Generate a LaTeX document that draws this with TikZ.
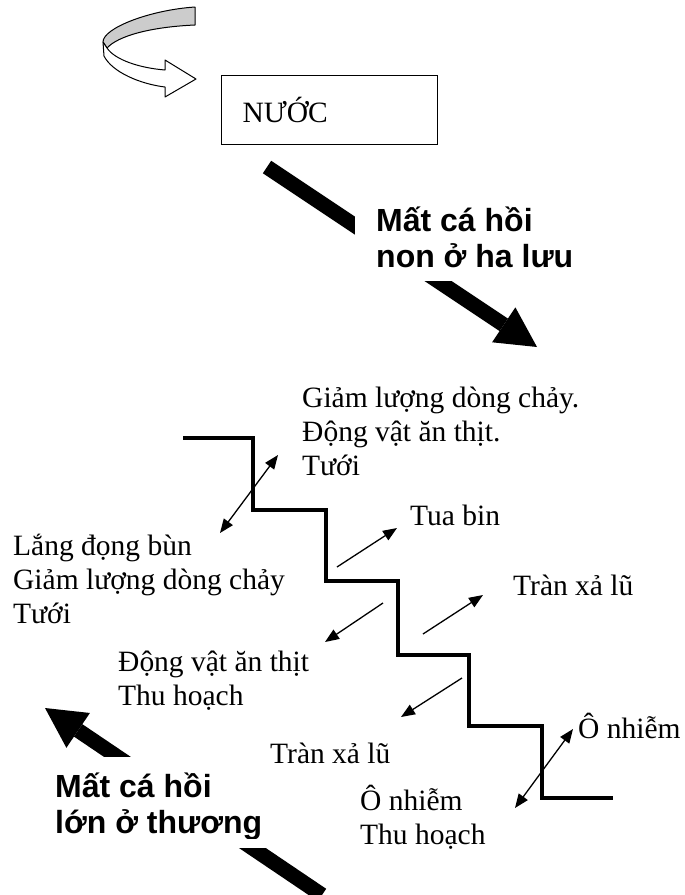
\documentclass[tikz,border=0pt]{standalone}
\usepackage{fontspec}
\setmainfont{Liberation Serif}
\setsansfont{Liberation Sans}
\usetikzlibrary{arrows.meta}
\tikzset{
  lbl/.style={anchor=base west, inner sep=0pt, align=left, font=\fontsize{29.5}{34}\selectfont},
  boldlbl/.style={anchor=base west, inner sep=0pt, align=left, font=\sffamily\bfseries\fontsize{32}{36}\selectfont},
  stair/.style={line width=4.5pt, line join=miter},
  thinarrow/.style={line width=1.3pt, -{Triangle[length=14pt,width=11pt]}},
  dblarrow/.style={line width=1.3pt, {Triangle[length=14pt,width=11pt]}-{Triangle[length=14pt,width=11pt]}},
  bigarrow/.style={line width=15pt, -{Triangle[length=40pt,width=42pt,line width=0pt]}},
  cover/.style={fill=white, draw=none}
}
\begin{document}
\begin{tikzpicture}[x=1pt,y=-1pt]
\useasboundingbox (0,0) rectangle (685,895);

% curved arrow
\filldraw[fill=black!20, draw=black, line width=1pt, line join=round]
  (195,7) .. controls (150,10) and (103,28) .. (103,42)
  -- (107,48) .. controls (118,36) and (150,27) .. (195,25) -- cycle;
\filldraw[fill=white, draw=black, line width=1pt, line join=round]
  (103,42) -- (104,56) .. controls (112,72) and (140,84) .. (165,87)
  -- (165,97) -- (196,79) -- (165,60) -- (165,70)
  .. controls (140,68) and (115,60) .. (107,48) -- cycle;

% box
\node (water) [draw, line width=1.3pt, anchor=north west, minimum width=216pt,
  minimum height=69pt, text width=174pt, inner xsep=20pt, inner ysep=0pt, align=left,
  font=\fontsize{29.5}{34}\selectfont] at (221,75) {NƯỚC};

% big arrows
\coordinate (u1) at (267,167);
\coordinate (u2) at (537,347);
\draw[bigarrow] (u1) -- (u2);
\coordinate (l1) at (322,895);
\coordinate (l2) at (45,708);
\draw[bigarrow] (l1) -- (l2);

% white backgrounds of the two text boxes
\fill[cover] (355,190) rectangle (615,281);
\fill[cover] (40,757) rectangle (275,848);

% staircase
\coordinate (s0) at (183,438);
\draw[stair] (s0) -| (253,510) -| (326,581) -| (398,655) -| (469,726) -| (542,798) -- (613,798);

% small arrows
\coordinate (a1s) at (220,533); \coordinate (a1e) at (278,455);
\draw[dblarrow] (a1s) -- (a1e);
\coordinate (a2s) at (337,567); \coordinate (a2e) at (397,528);
\draw[thinarrow] (a2s) -- (a2e);
\coordinate (a3s) at (383,603); \coordinate (a3e) at (325,642);
\draw[thinarrow] (a3s) -- (a3e);
\coordinate (a4s) at (423,634); \coordinate (a4e) at (483,595);
\draw[thinarrow] (a4s) -- (a4e);
\coordinate (a5s) at (462,678); \coordinate (a5e) at (401,717);
\draw[thinarrow] (a5s) -- (a5e);
\coordinate (a6s) at (515,808); \coordinate (a6e) at (573,729);
\draw[dblarrow] (a6s) -- (a6e);

% labels (anchor = baseline of the last line)
\node (t1) [lbl] at (302,475) {Giảm lượng dòng chảy.\\Động vật ăn thịt.\\Tưới};
\node (t2) [lbl] at (410,525) {Tua bin};
\node (t3) [lbl] at (13,623) {Lắng đọng bùn\\Giảm lượng dòng chảy\\Tưới};
\node (t4) [lbl] at (513,595) {Tràn xả lũ};
\node (t5) [lbl] at (118,705) {Động vật ăn thịt\\Thu hoạch};
\node (t6) [lbl] at (270,763) {Tràn xả lũ};
\node (t7) [lbl] at (578,738) {Ô nhiễm};
\node (t8) [lbl] at (360,844) {Ô nhiễm\\Thu hoạch};

\node (b1) [boldlbl] at (376,267) {Mất cá hồi\\non ở ha lưu};
\begin{scope}
\clip (0,757) rectangle (300,838);
\node (b2) [boldlbl] at (55,833) {Mất cá hồi\\lớn ở thương};
\end{scope}
\end{tikzpicture}
\end{document}
